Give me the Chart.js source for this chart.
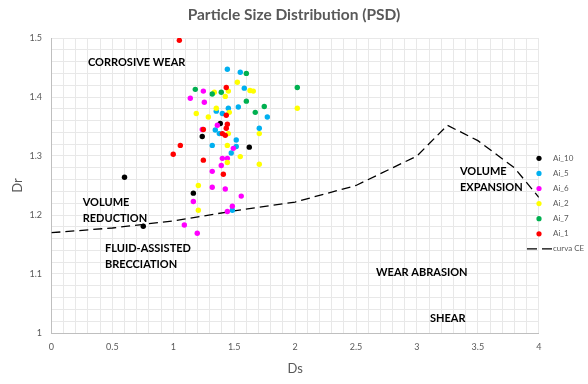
<!DOCTYPE html>
<html>
<head>
<meta charset="utf-8">
<script src="https://cdn.jsdelivr.net/npm/chart.js@4/dist/chart.umd.min.js"></script>
<style>
  body { margin: 0; background: #fff; }
  #wrap { width: 588px; height: 384px; position: relative; }
</style>
</head>
<body>
<div id="wrap"><canvas id="graficoPSD"></canvas></div>
<script>
// pontos [Ds, Dr]
const ai10 = [[0.60,1.264],[0.754,1.181],[1.165,1.237],[1.238,1.333],[1.386,1.355],[1.624,1.315]];
const ai5 = [[1.444,1.447],[1.55,1.442],[1.583,1.415],[1.353,1.376],[1.403,1.372],[1.452,1.381],[1.534,1.383],
  [1.772,1.366],[1.345,1.344],[1.378,1.338],[1.706,1.347],[1.517,1.327],[1.32,1.318],[1.517,1.316],[1.476,1.305],[1.485,1.208]];
const ai6 = [[1.247,1.41],[1.14,1.398],[1.255,1.391],[1.362,1.352],[1.238,1.345],[1.493,1.313],[1.403,1.296],[1.444,1.296],
  [1.394,1.284],[1.32,1.274],[1.32,1.247],[1.427,1.244],[1.558,1.232],[1.165,1.223],[1.485,1.215],[1.444,1.206],[1.091,1.183],[1.197,1.169]];
const ai2 = [[1.526,1.425],[1.63,1.411],[1.657,1.41],[1.337,1.408],[1.452,1.41],[1.427,1.401],[2.018,1.381],[1.353,1.381],
  [1.46,1.374],[1.189,1.372],[1.288,1.366],[1.452,1.338],[1.706,1.338],[1.444,1.318],[1.55,1.299],[1.444,1.289],[1.706,1.286],[1.206,1.25],[1.206,1.208]];
const ai7 = [[1.60,1.44],[2.018,1.416],[1.181,1.413],[1.394,1.408],[1.32,1.405],[1.60,1.393],[1.747,1.384],[1.673,1.374]];
const ai1 = [[1.05,1.496],[1.435,1.416],[1.435,1.369],[1.444,1.354],[1.435,1.347],[1.247,1.345],[1.403,1.338],[1.427,1.335],
  [1.058,1.318],[1.0,1.303],[1.247,1.293],[1.411,1.269]];
// curva CE
const curvaDs = [0, 0.5, 1, 1.5, 2, 2.5, 3, 3.25, 3.5, 3.8, 4];
const curvaDr = [1.17, 1.178, 1.19, 1.207, 1.222, 1.25, 1.30, 1.352, 1.326, 1.28, 1.23];

const seriesNames = ['Ai_10', 'Ai_5', 'Ai_6', 'Ai_2', 'Ai_7', 'Ai_1'];
const seriesData = [ai10, ai5, ai6, ai2, ai7, ai1];
const seriesColors = ['#000000', '#00B0F0', '#FF00FF', '#FFFF00', '#00B050', '#FF0000'];

// textos das regiões [texto, Ds, Dr]
const regionLabels = [
  ['CORROSIVE WEAR', 0.30, 1.458],
  ['VOLUME', 0.257, 1.2215],
  ['REDUCTION', 0.257, 1.194],
  ['FLUID-ASSISTED', 0.44, 1.1436],
  ['BRECCIATION', 0.44, 1.1164],
  ['WEAR ABRASION', 2.664, 1.103],
  ['SHEAR', 3.107, 1.025],
  ['VOLUME', 3.353, 1.273],
  ['EXPANSION', 3.353, 1.246]
];

const FONTE = 'Lato, "Open Sans", sans-serif';
const CINZA = '#595959';

function majorLabel(step) {
  return function(v) {
    const r = Math.round(v / step);
    return Math.abs(v / step - r) < 1e-6 ? String(+(r * step).toFixed(2)) : '';
  };
}

const datasets = seriesData.map(function(pts, i) {
  return {
    type: 'scatter',
    label: seriesNames[i],
    data: pts.map(function(p) { return {x: p[0], y: p[1]}; }),
    backgroundColor: seriesColors[i],
    borderColor: seriesColors[i],
    pointRadius: 2.7,
    pointBorderWidth: 0,
    order: seriesData.length - i
  };
});
datasets.push({
  type: 'line',
  label: 'curva CE',
  data: curvaDs.map(function(x, i) { return {x: x, y: curvaDr[i]}; }),
  borderColor: '#000000',
  borderWidth: 1.3,
  borderDash: [9, 5],
  pointRadius: 0,
  fill: false,
  tension: 0,
  order: 10
});

// textos dentro da área e legenda
const extras = {
  id: 'extras',
  afterDatasetsDraw(chart) {
    const ctx = chart.ctx;
    const xs = chart.scales.x, ys = chart.scales.y;
    ctx.save();
    ctx.fillStyle = '#000';
    ctx.font = 'bold 11px ' + FONTE;
    ctx.textAlign = 'left';
    ctx.textBaseline = 'middle';
    regionLabels.forEach(function(l) {
      ctx.fillText(l[0], xs.getPixelForValue(l[1]), ys.getPixelForValue(l[2]));
    });
    ctx.restore();
  },
  afterDraw(chart) {
    const ctx = chart.ctx;
    ctx.save();
    ctx.font = '8px ' + FONTE;
    ctx.textBaseline = 'middle';
    ctx.textAlign = 'left';
    let y = 158.3;
    seriesNames.forEach(function(n, i) {
      ctx.fillStyle = seriesColors[i];
      ctx.beginPath();
      ctx.arc(539, y, 2.6, 0, Math.PI * 2);
      ctx.fill();
      ctx.fillStyle = CINZA;
      ctx.fillText(n, 553, y);
      y += 15.1;
    });
    ctx.strokeStyle = '#000';
    ctx.lineWidth = 1.2;
    ctx.setLineDash([10, 5]);
    ctx.beginPath();
    ctx.moveTo(527, y);
    ctx.lineTo(552, y);
    ctx.stroke();
    ctx.setLineDash([]);
    ctx.fillStyle = CINZA;
    ctx.fillText('curva CE', 553, y);
    ctx.restore();
  }
};

new Chart(document.getElementById('graficoPSD'), {
  type: 'scatter',
  data: { datasets: datasets },
  plugins: [extras],
  options: {
    responsive: true,
    maintainAspectRatio: false,
    animation: false,
    layout: { padding: 0 },
    plugins: {
      legend: { display: false },
      tooltip: { enabled: false },
      title: {
        display: true,
        text: 'Particle Size Distribution (PSD)',
        color: CINZA,
        font: { family: FONTE, size: 15.5, weight: 'bold' },
        padding: { top: 5.5, bottom: 13.9 }
      }
    },
    scales: {
      x: {
        type: 'linear',
        min: 0,
        max: 4,
        afterFit: function(s) { s.height = 51; s.paddingRight = 49.2; },
        ticks: { stepSize: 0.1, autoSkip: false, maxRotation: 0, padding: 9, color: CINZA,
                 font: { family: FONTE, size: 9 }, callback: majorLabel(0.5) },
        grid: { color: '#e8e8e8', drawTicks: false },
        border: { color: '#bfbfbf' },
        title: { display: true, text: 'Ds', color: CINZA, font: { family: FONTE, size: 13 },
                 padding: { top: 0, bottom: 7.5 } }
      },
      y: {
        type: 'linear',
        min: 1,
        max: 1.5,
        afterFit: function(s) { s.width = 51.4; },
        ticks: { stepSize: 0.02, autoSkip: false, padding: 9.4, color: CINZA,
                 font: { family: FONTE, size: 9 }, callback: majorLabel(0.1) },
        grid: { color: '#e8e8e8', drawTicks: false },
        border: { color: '#bfbfbf' },
        title: { display: true, text: 'Dr', color: CINZA, font: { family: FONTE, size: 13 },
                 padding: { top: 10.5, bottom: 0 } }
      }
    }
  }
});
</script>
</body>
</html>
